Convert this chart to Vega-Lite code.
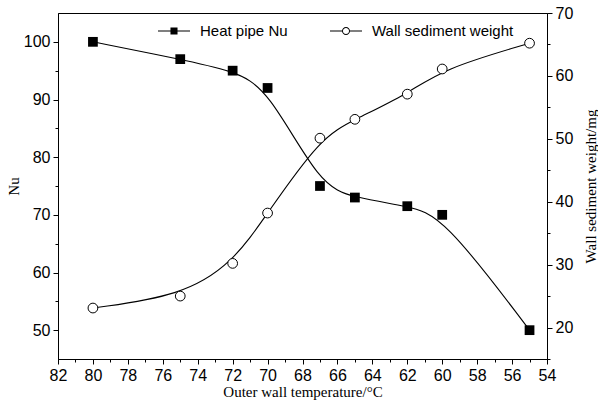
{
  "$schema": "https://vega.github.io/schema/vega-lite/v6.json",
  "width": 489,
  "height": 346,
  "autosize": {"type": "none"},
  "padding": {"left": 58, "top": 13, "right": 51, "bottom": 51},
  "background": "white",
  "config": {
    "view": {"stroke": "black", "strokeWidth": 1},
    "axis": {
      "grid": false,
      "domainColor": "black",
      "tickColor": "black",
      "tickWidth": 1,
      "labelFont": "Liberation Sans",
      "labelFontSize": 16,
      "labelColor": "black",
      "labelOverlap": false,
      "titleFont": "Liberation Serif",
      "titleFontSize": 15,
      "titleFontWeight": "normal",
      "titleColor": "black"
    }
  },
  "datasets": {
    "main": [
      {"T": 80, "Nu": 100, "W": 23.1},
      {"T": 75, "Nu": 97, "W": 25.0},
      {"T": 72, "Nu": 95, "W": 30.2},
      {"T": 70, "Nu": 92, "W": 38.2},
      {"T": 67, "Nu": 75, "W": 50.1},
      {"T": 65, "Nu": 73, "W": 53.1},
      {"T": 62, "Nu": 71.5, "W": 57.1},
      {"T": 60, "Nu": 70, "W": 61.1},
      {"T": 55, "Nu": 50, "W": 65.2}
    ],
    "series": [
      {"series": "Heat pipe Nu"},
      {"series": "Wall sediment weight"}
    ]
  },
  "layer": [
    {
      "data": {"name": "main"},
      "encoding": {
        "x": {
          "field": "T", "type": "quantitative",
          "scale": {"domain": [54, 82], "reverse": true, "nice": false, "zero": false},
          "axis": {
            "title": "Outer wall temperature/°C",
            "values": [82,81,80,79,78,77,76,75,74,73,72,71,70,69,68,67,66,65,64,63,62,61,60,59,58,57,56,55,54],
            "labelExpr": "datum.value % 2 == 0 ? datum.label : ''",
            "tickSize": {"condition": {"test": "datum.value % 2 == 0", "value": 5}, "value": 3},
            "labelPadding": 3,
            "labelFlush": false,
            "titlePadding": 1
          }
        },
        "y": {
          "field": "Nu", "type": "quantitative",
          "scale": {"domain": [45, 105], "nice": false, "zero": false},
          "axis": {
            "title": "Nu",
            "orient": "left",
            "tickSize": {"condition": {"test": "datum.value % 10 == 0", "value": 5}, "value": 3},
            "labelPadding": 3,
            "values": [50,55,60,65,70,75,80,85,90,95,100],
            "labelExpr": "datum.value % 10 == 0 ? datum.label : ''",
            "titlePadding": 2
          }
        }
      },
      "layer": [
        {"mark": {"type": "line", "interpolate": "basis", "color": "black", "strokeWidth": 1.1}},
        {"mark": {"type": "point", "shape": "square", "filled": true, "color": "black", "size": 95, "opacity": 1}}
      ]
    },
    {
      "data": {"name": "main"},
      "encoding": {
        "x": {
          "field": "T", "type": "quantitative",
          "scale": {"domain": [54, 82], "reverse": true, "nice": false, "zero": false},
          "axis": {
            "title": "Outer wall temperature/°C",
            "values": [82,81,80,79,78,77,76,75,74,73,72,71,70,69,68,67,66,65,64,63,62,61,60,59,58,57,56,55,54],
            "labelExpr": "datum.value % 2 == 0 ? datum.label : ''",
            "tickSize": {"condition": {"test": "datum.value % 2 == 0", "value": 5}, "value": 3},
            "labelPadding": 3,
            "labelFlush": false,
            "titlePadding": 1
          }
        },
        "y": {
          "field": "W", "type": "quantitative",
          "scale": {"domain": [15, 70], "nice": false, "zero": false},
          "axis": {
            "title": "Wall sediment weight/mg",
            "orient": "right",
            "titleAngle": 270,
            "tickSize": {"condition": {"test": "datum.value % 10 == 0", "value": 5}, "value": 3},
            "labelPadding": 3,
            "values": [15,20,25,30,35,40,45,50,55,60,65,70],
            "labelExpr": "datum.value % 10 == 0 ? datum.label : ''",
            "titlePadding": 26
          }
        }
      },
      "layer": [
        {"mark": {"type": "line", "interpolate": "basis", "color": "black", "strokeWidth": 1.1}},
        {"mark": {"type": "point", "shape": "circle", "filled": true, "fill": "white", "stroke": "black", "strokeWidth": 1, "size": 95, "opacity": 1}}
      ]
    },
    {
      "data": {"name": "series"},
      "transform": [{"filter": "false"}],
      "mark": {"type": "point", "filled": true, "color": "black", "opacity": 1},
      "encoding": {
        "shape": {
          "field": "series", "type": "nominal",
          "scale": {
            "domain": ["Heat pipe Nu", "Wall sediment weight"],
            "range": [
              "M-1,-0.035L1,-0.035L1,0.035L-1,0.035Z M-0.22,-0.22L0.22,-0.22L0.22,0.22L-0.22,0.22Z",
              "M-1,-0.035L-0.24,-0.035L-0.24,0.035L-1,0.035Z M0.24,-0.035L1,-0.035L1,0.035L0.24,0.035Z M0.25,0A0.25,0.25,0,1,1,-0.25,0A0.25,0.25,0,1,1,0.25,0Z M0.19,0A0.19,0.19,0,1,0,-0.19,0A0.19,0.19,0,1,0,0.19,0Z"
            ]
          },
          "legend": {
            "title": null,
            "orient": "none",
            "direction": "horizontal",
            "legendX": 100,
            "legendY": 2,
            "symbolSize": 1024,
            "symbolFillColor": "black",
            "symbolStrokeWidth": 0,
            "labelFont": "Liberation Sans",
            "labelFontSize": 15,
            "labelColor": "black",
            "labelOffset": 10,
            "columnPadding": 42,
            "labelLimit": 300
          }
        }
      }
    }
  ],
  "resolve": {"scale": {"y": "independent"}}
}
